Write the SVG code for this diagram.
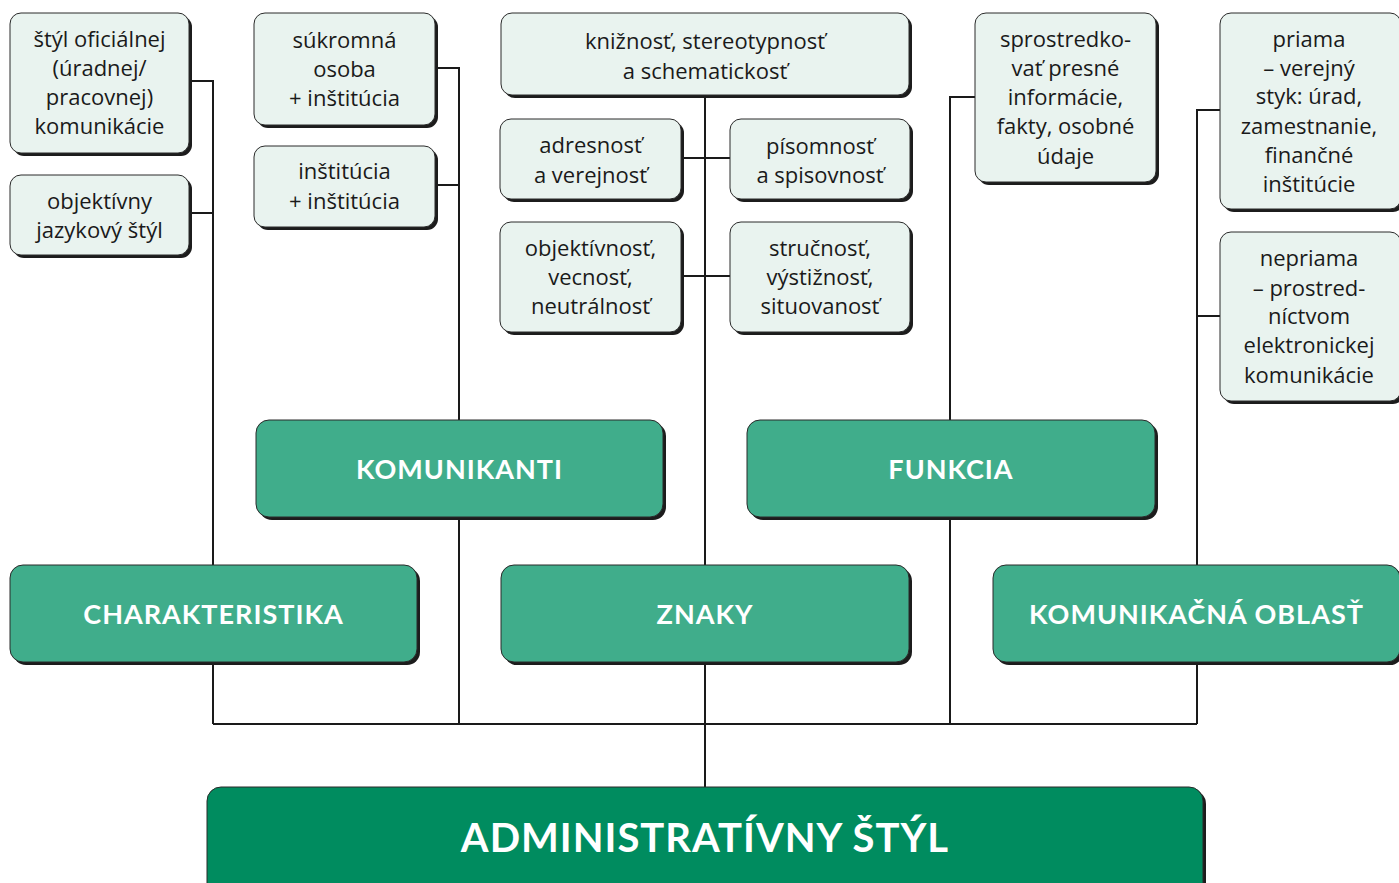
<svg xmlns="http://www.w3.org/2000/svg" width="1399" height="883" viewBox="0 0 1399 883">
<style>
.sh{fill:#1c1c1c}
.lb{fill:#e9f3ef;stroke:#2a2a2a;stroke-width:1}
.gb{fill:#40ad8b;stroke:#2a2a2a;stroke-width:1}
.db{fill:#008c5f;stroke:#2a2a2a;stroke-width:1}
.t{font-family:"Open Sans",Lato,sans-serif;font-size:22px;fill:#1a1a1a;text-anchor:middle}
.g{font-family:Lato,"Open Sans",sans-serif;font-size:27px;font-weight:bold;fill:#fff;text-anchor:middle;letter-spacing:1px}
.m{font-family:Lato,"Open Sans",sans-serif;font-size:40px;font-weight:bold;fill:#fff;text-anchor:middle;letter-spacing:1px}
.c{stroke:#1a1a1a;stroke-width:2;fill:none}
</style>
<rect width="1399" height="883" fill="#fff"/>
<g id="connectors">
<path class="c" d="M189 81H213V724M189 213H213"/>
<path class="c" d="M435 68H459V724M435 185H459"/>
<path class="c" d="M705 95V787M681 158H730M681 276H730"/>
<path class="c" d="M975 97H950V724"/>
<path class="c" d="M1220 110H1197V724M1220 316H1197"/>
<path class="c" d="M213 724H1197"/>
</g>
<g id="n-stylofic"><rect class="sh" x="13" y="16" width="179" height="140" rx="11"/><rect class="lb" x="10" y="13" width="179" height="140" rx="11"/>
<text class="t" x="99.5" y="47">štýl oficiálnej</text><text class="t" x="99.5" y="76">(úradnej/</text><text class="t" x="99.5" y="105">pracovnej)</text><text class="t" x="99.5" y="134">komunikácie</text></g>
<g id="n-objstyl"><rect class="sh" x="13" y="178" width="179" height="80" rx="11"/><rect class="lb" x="10" y="175" width="179" height="80" rx="11"/>
<text class="t" x="99.5" y="209">objektívny</text><text class="t" x="99.5" y="238">jazykový štýl</text></g>
<g id="n-sukromna"><rect class="sh" x="257" y="16" width="181" height="112" rx="11"/><rect class="lb" x="254" y="13" width="181" height="112" rx="11"/>
<text class="t" x="344.5" y="48">súkromná</text><text class="t" x="344.5" y="77">osoba</text><text class="t" x="344.5" y="106">+ inštitúcia</text></g>
<g id="n-institucia"><rect class="sh" x="257" y="149" width="181" height="81" rx="11"/><rect class="lb" x="254" y="146" width="181" height="81" rx="11"/>
<text class="t" x="344.5" y="179">inštitúcia</text><text class="t" x="344.5" y="209">+ inštitúcia</text></g>
<g id="n-kniznost"><rect class="sh" x="504" y="16" width="408" height="82" rx="11"/><rect class="lb" x="501" y="13" width="408" height="82" rx="11"/>
<text class="t" x="705" y="49">knižnosť, stereotypnosť</text><text class="t" x="705" y="79">a schematickosť</text></g>
<g id="n-adresnost"><rect class="sh" x="503" y="122" width="181" height="80" rx="11"/><rect class="lb" x="500" y="119" width="181" height="80" rx="11"/>
<text class="t" x="590.5" y="153">adresnosť</text><text class="t" x="590.5" y="183">a verejnosť</text></g>
<g id="n-pisomnost"><rect class="sh" x="733" y="122" width="180" height="80" rx="11"/><rect class="lb" x="730" y="119" width="180" height="80" rx="11"/>
<text class="t" x="820" y="154">písomnosť</text><text class="t" x="820" y="183">a spisovnosť</text></g>
<g id="n-objektivnost"><rect class="sh" x="503" y="225" width="181" height="110" rx="11"/><rect class="lb" x="500" y="222" width="181" height="110" rx="11"/>
<text class="t" x="590.5" y="256">objektívnosť,</text><text class="t" x="590.5" y="285">vecnosť,</text><text class="t" x="590.5" y="314">neutrálnosť</text></g>
<g id="n-strucnost"><rect class="sh" x="733" y="225" width="180" height="110" rx="11"/><rect class="lb" x="730" y="222" width="180" height="110" rx="11"/>
<text class="t" x="820" y="256">stručnosť,</text><text class="t" x="820" y="285">výstižnosť,</text><text class="t" x="820" y="314">situovanosť</text></g>
<g id="n-sprostredkovat"><rect class="sh" x="978" y="16" width="181" height="169" rx="11"/><rect class="lb" x="975" y="13" width="181" height="169" rx="11"/>
<text class="t" x="1065.5" y="47">sprostredko-</text><text class="t" x="1065.5" y="76">vať presné</text><text class="t" x="1065.5" y="105">informácie,</text><text class="t" x="1065.5" y="134">fakty, osobné</text><text class="t" x="1065.5" y="164">údaje</text></g>
<g id="n-priama"><rect class="sh" x="1223" y="16" width="181" height="196" rx="11"/><rect class="lb" x="1220" y="13" width="181" height="196" rx="11"/>
<text class="t" x="1309" y="47">priama</text><text class="t" x="1309" y="76">– verejný</text><text class="t" x="1309" y="104">styk: úrad,</text><text class="t" x="1309" y="134">zamestnanie,</text><text class="t" x="1309" y="163">finančné</text><text class="t" x="1309" y="192">inštitúcie</text></g>
<g id="n-nepriama"><rect class="sh" x="1223" y="235" width="181" height="169" rx="11"/><rect class="lb" x="1220" y="232" width="181" height="169" rx="11"/>
<text class="t" x="1309" y="266">nepriama</text><text class="t" x="1309" y="296">– prostred-</text><text class="t" x="1309" y="324">níctvom</text><text class="t" x="1309" y="353">elektronickej</text><text class="t" x="1309" y="383">komunikácie</text></g>
<g id="n-komunikanti"><rect class="sh" x="259" y="423" width="407" height="97" rx="13"/><rect class="gb" x="256" y="420" width="407" height="97" rx="13"/>
<text class="g" x="459.5" y="479">KOMUNIKANTI</text></g>
<g id="n-funkcia"><rect class="sh" x="750" y="423" width="408" height="97" rx="13"/><rect class="gb" x="747" y="420" width="408" height="97" rx="13"/>
<text class="g" x="951" y="479">FUNKCIA</text></g>
<g id="n-charakteristika"><rect class="sh" x="13" y="568" width="407" height="97" rx="13"/><rect class="gb" x="10" y="565" width="407" height="97" rx="13"/>
<text class="g" x="213.5" y="624">CHARAKTERISTIKA</text></g>
<g id="n-znaky"><rect class="sh" x="504" y="568" width="408" height="97" rx="13"/><rect class="gb" x="501" y="565" width="408" height="97" rx="13"/>
<text class="g" x="705" y="624">ZNAKY</text></g>
<g id="n-oblast"><rect class="sh" x="996" y="568" width="407" height="97" rx="13"/><rect class="gb" x="993" y="565" width="407" height="97" rx="13"/>
<text class="g" x="1196.5" y="624">KOMUNIKAČNÁ OBLASŤ</text></g>
<g id="n-admin"><rect class="sh" x="210" y="790" width="996" height="110" rx="14"/><rect class="db" x="207" y="787" width="996" height="110" rx="14"/>
<text class="m" x="705" y="852">ADMINISTRATÍVNY ŠTÝL</text></g>
</svg>
